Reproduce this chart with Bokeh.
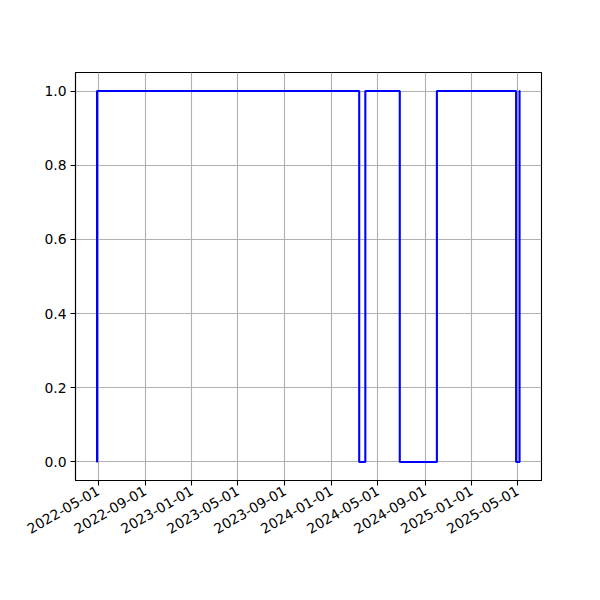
import math
from datetime import datetime
from bokeh.plotting import figure
from bokeh.models import FixedTicker, DatetimeTickFormatter, Range1d, NumeralTickFormatter
from bokeh.embed import file_html
from bokeh.resources import INLINE

# ---- data ----
dates = ["2022-04-27", "2022-04-28", "2024-03-13", "2024-03-29", "2024-06-27",
         "2024-10-02", "2025-04-27", "2025-05-06", "2025-05-08"]
status = [0, 1, 0, 1, 0, 1, 0, 1, 1]
x_tick_labels = ["2022-05-01", "2022-09-01", "2023-01-01", "2023-05-01", "2023-09-01",
                 "2024-01-01", "2024-05-01", "2024-09-01", "2025-01-01", "2025-05-01"]
y_ticks = [0.0, 0.2, 0.4, 0.6, 0.8, 1.0]

xs = [datetime.strptime(d, "%Y-%m-%d") for d in dates]
span = xs[-1] - xs[0]
x0 = xs[0] - span * 0.05
x1 = xs[-1] + span * 0.05

p = figure(x_axis_type="datetime", output_backend="svg", toolbar_location=None,
           frame_width=466, frame_height=408,
           min_border_left=75, min_border_right=51, min_border_top=72, min_border_bottom=112,
           x_range=Range1d(x0, x1), y_range=Range1d(-0.05, 1.05))

p.step(xs, status, mode="after", line_color="blue", line_width=2.1)

epoch = datetime(1970, 1, 1)
tick_ms = [(datetime.strptime(t, "%Y-%m-%d") - epoch).total_seconds() * 1000 for t in x_tick_labels]
p.xaxis.ticker = FixedTicker(ticks=tick_ms)
p.xaxis.formatter = DatetimeTickFormatter(days="%Y-%m-%d", months="%Y-%m-%d", years="%Y-%m-%d",
                                          hours="%Y-%m-%d", minutes="%Y-%m-%d")
p.xaxis.major_label_orientation = math.pi / 6
p.yaxis.ticker = FixedTicker(ticks=y_ticks)
p.yaxis.formatter = NumeralTickFormatter(format="0.0")

for ax in (p.xaxis, p.yaxis):
    ax.axis_line_color = "black"
    ax.axis_line_width = 1.1
    ax.major_tick_line_color = "black"
    ax.major_tick_line_width = 1.1
    ax.major_tick_out = 5
    ax.major_tick_in = 0
    ax.minor_tick_line_color = None
    ax.major_label_text_font = "DejaVu Sans"
    ax.major_label_text_font_size = "13.9px"
    ax.major_label_text_color = "black"
    ax.major_label_standoff = 4

p.grid.grid_line_color = "#b0b0b0"
p.grid.grid_line_width = 1.1
p.outline_line_color = "black"
p.outline_line_width = 1.1
p.outline_line_alpha = 1.0
p.background_fill_color = "white"
p.border_fill_color = "white"

open("out.html", "w").write(file_html(p, INLINE))
